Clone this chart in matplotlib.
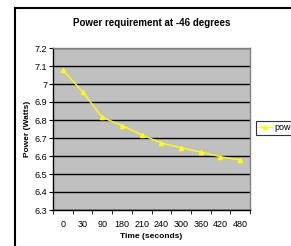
import matplotlib
matplotlib.use("Agg")
import matplotlib.pyplot as plt
from matplotlib.lines import Line2D
import numpy as np

categories = ["0", "30", "90", "180", "210", "240", "300", "360", "420", "480"]
power = [7.078, 6.957, 6.815, 6.769, 6.718, 6.672, 6.646, 6.622, 6.596, 6.578]
yticks = [6.3, 6.4, 6.5, 6.6, 6.7, 6.8, 6.9, 7.0, 7.1, 7.2]
ytick_labels = ["6.3", "6.4", "6.5", "6.6", "6.7", "6.8", "6.9", "7", "7.1", "7.2"]

plt.rcParams['font.family'] = ['Liberation Sans', 'DejaVu Sans']

W, H = 291, 246
fig = plt.figure(figsize=(W/100, H/100), dpi=100)
fig.patch.set_facecolor('white')

L, R, T, B = 53, 250, 48, 210
ax = fig.add_axes([L/W, 1 - B/H, (R-L)/W, (B-T)/H])
ax.set_facecolor('#C0C0C0')

x = np.arange(len(categories))
ax.plot(x, power, color='#FFFF00', lw=1, marker='^', ms=3, mfc='#FFFF00', mec='#FFFF00', label='power', zorder=3)

ax.set_xlim(-0.5, len(categories) - 0.5)
ax.set_ylim(6.3, 7.2)
ax.set_yticks(yticks)
ax.set_yticklabels(ytick_labels, fontsize=6.5)
ax.yaxis.grid(True, color='black', lw=1)
ax.set_axisbelow(True)

ax.set_xticks(x)
ax.set_xticklabels(categories, fontsize=6.5)
ax.set_xticks(np.arange(-0.5, len(categories), 1.0), minor=True)
ax.tick_params(axis='x', which='major', length=0, pad=7)
ax.tick_params(axis='x', which='minor', length=3, direction='out', color='black')
ax.tick_params(axis='y', length=3, direction='out', pad=1)

for s in ['top', 'right']:
    ax.spines[s].set_color('#808080')
    ax.spines[s].set_linewidth(1)
for s in ['left', 'bottom']:
    ax.spines[s].set_color('black')
    ax.spines[s].set_linewidth(1)

ax.set_xlabel('Time (seconds)', fontsize=6, fontweight='bold', labelpad=3)
ax.set_ylabel('Power (Watts)', fontsize=6, fontweight='bold', labelpad=3)
ax.set_title('Power requirement at -46 degrees', fontsize=7, fontweight='bold', pad=16)

# legend (clipped by figure edge, as in the reference)
leg = ax.legend(loc='center left', bbox_to_anchor=(256/W, 1 - 128/H), bbox_transform=fig.transFigure,
                fontsize=6.5, frameon=True, fancybox=False, edgecolor='black', borderpad=0.3,
                handlelength=1.5, handletextpad=0.2, borderaxespad=0)
leg.get_frame().set_linewidth(0.8)

# chart area border (left and top visible)
fig.add_artist(Line2D([14.5/W, 14.5/W], [0, 1 - 8/H], transform=fig.transFigure, color='black', lw=1.5))
fig.add_artist(Line2D([14.5/W, 1], [1 - 8/H, 1 - 8/H], transform=fig.transFigure, color='black', lw=1.5))

fig.savefig('out.png', dpi=100)
